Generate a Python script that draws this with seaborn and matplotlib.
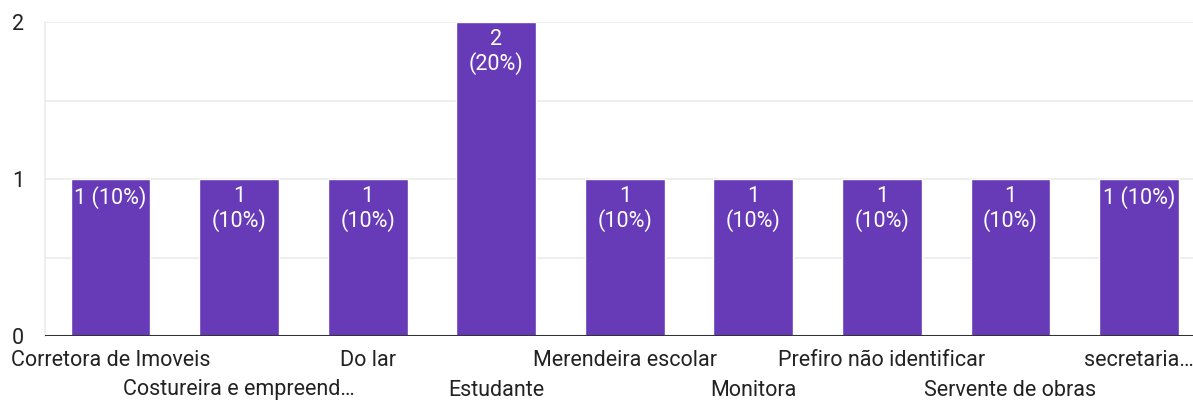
import matplotlib
matplotlib.use("Agg")
import matplotlib.pyplot as plt
import seaborn as sns
import pandas as pd

categories = ["Corretora de Imoveis", "Costureira e empreend…", "Do lar", "Estudante",
              "Merendeira escolar", "Monitora", "Prefiro não identificar",
              "Servente de obras", "secretaria…"]
counts = [1, 1, 1, 2, 1, 1, 1, 1, 1]
percents = [10, 10, 10, 20, 10, 10, 10, 10, 10]
wrapped = [False, True, True, True, True, True, True, True, False]
yticks = [0, 1, 2]

sns.set_theme(style="white")
plt.rcParams['font.family'] = ['Roboto', 'DejaVu Sans']

df = pd.DataFrame({"cat": categories, "count": counts})

fig = plt.figure(figsize=(11.93, 4.01), dpi=100)
ax = fig.add_axes([45/1193, 1-336/401, 1-45/1193, (336-22)/401])

sns.barplot(data=df, x="cat", y="count", color="#673ab7", saturation=1, width=0.62, ax=ax)
ax.set_xlim(-0.51, 8.42)
ax.set_ylim(0, 2)

for y in [0.5, 1, 1.5, 2]:
    ax.axhline(y, color="#ebebeb", lw=1.2, zorder=0)
ax.axhline(0, color="#333333", lw=1.5, zorder=3)

for s in ["top", "right", "bottom"]:
    ax.spines[s].set_visible(False)
ax.spines["left"].set_color("#ebebeb")
ax.spines["left"].set_linewidth(1.2)

ax.set_yticks(yticks)
ax.set_yticklabels([str(t) for t in yticks], fontsize=15.5, color="#222222")
ax.tick_params(axis="y", length=0, pad=15)

ax.set_xticks(range(len(categories)))
ax.set_xticklabels([])
ax.tick_params(axis="x", length=0)
for i, c in enumerate(categories):
    yoff = -25 if i % 2 == 0 else -54
    ax.annotate(c, (i, 0), xytext=(0, yoff), textcoords="offset pixels",
                ha="center", va="center", fontsize=15.5, color="#222222")

for i, (v, p) in enumerate(zip(counts, percents)):
    txt = f"{v}\n({p}%)" if wrapped[i] else f"{v} ({p}%)"
    ax.annotate(txt, (i, v), xytext=(0, -7), textcoords="offset pixels",
                ha="center", va="top", fontsize=15.5, color="white", linespacing=1.1)

ax.set_xlabel("")
ax.set_ylabel("")
fig.savefig("out.png", dpi=100)
